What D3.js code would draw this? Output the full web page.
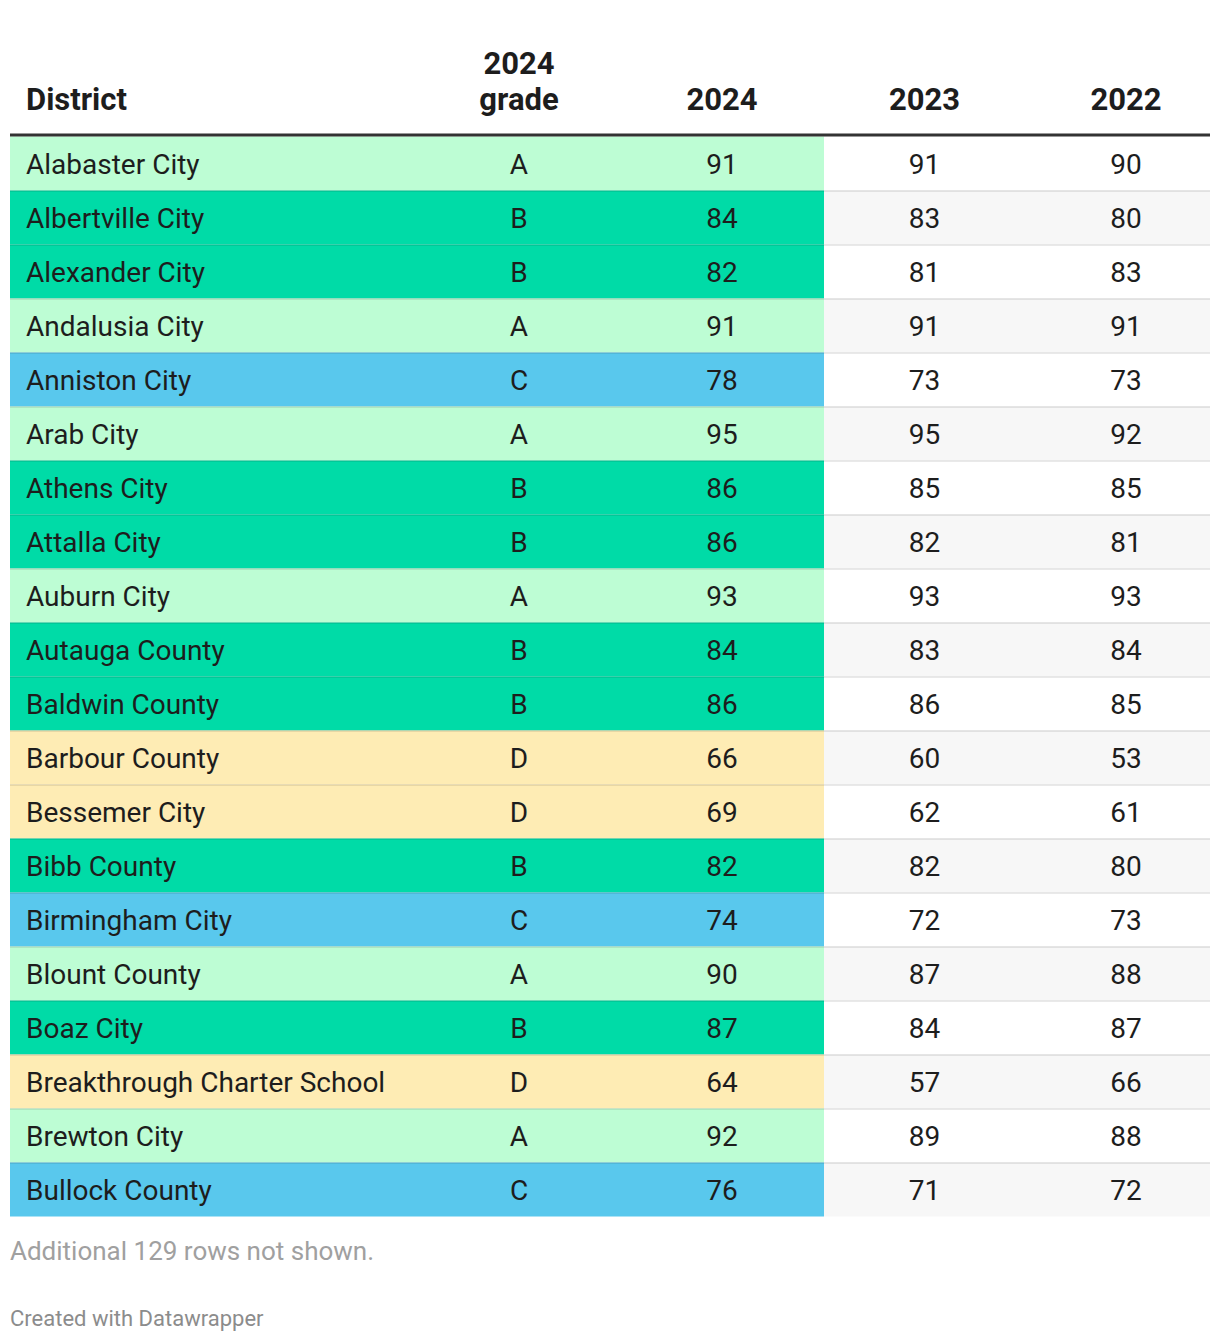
<!DOCTYPE html>
<html><head><meta charset="utf-8">
<script src="https://cdn.jsdelivr.net/npm/d3@7"></script>
<style>body{margin:0;background:#fff;} svg{display:block;font-family:Roboto,sans-serif;}</style>
</head><body>
<svg id="c" width="1220" height="1342"></svg>
<script>
const districts = ["Alabaster City","Albertville City","Alexander City","Andalusia City","Anniston City","Arab City","Athens City","Attalla City","Auburn City","Autauga County","Baldwin County","Barbour County","Bessemer City","Bibb County","Birmingham City","Blount County","Boaz City","Breakthrough Charter School","Brewton City","Bullock County"];
const grades2024 = ["A","B","B","A","C","A","B","B","A","B","B","D","D","B","C","A","B","D","A","C"];
const scores2024 = [91,84,82,91,78,95,86,86,93,84,86,66,69,82,74,90,87,64,92,76];
const scores2023 = [91,83,81,91,73,95,85,82,93,83,86,60,62,82,72,87,84,57,89,71];
const scores2022 = [90,80,83,91,73,92,85,81,93,84,85,53,61,80,73,88,87,66,88,72];
const columns = ["District","2024 grade","2024","2023","2022"];
const gradeLetters = ["A","B","C","D"];
const gradeColors = ["#bdfdd4","#00dba7","#59c8ed","#feecb4"];
const note = "Additional 129 rows not shown.";
const credit = "Created with Datawrapper";

const svg = d3.select("#c");
const L = 10, R = 1210, T = 136.5, rowH = 54;
const colColor = d3.scaleOrdinal().domain(gradeLetters).range(gradeColors);
const y = d3.scaleBand().domain(d3.range(districts.length)).range([T, T + rowH*districts.length]).padding(0);
const colEdges = [10, 418, 620, 824, 1025, 1227];
const colCenter = c => { const i = columns.indexOf(c); return (colEdges[i]+colEdges[i+1])/2; };

const rows = districts.map((d,i)=>({d, g:grades2024[i], s24:scores2024[i], s23:scores2023[i], s22:scores2022[i], i}));

// header
const hdr = svg.append("g").attr("font-weight",700).attr("font-size",31).attr("fill","#1d1d1d");
hdr.append("text").attr("x",26).attr("y",110).text("District");
hdr.append("text").attr("x",colCenter("2024 grade")).attr("y",74).attr("text-anchor","middle").text("2024");
hdr.append("text").attr("x",colCenter("2024 grade")).attr("y",110).attr("text-anchor","middle").text("grade");
["2024","2023","2022"].forEach(c=>{
  hdr.append("text").attr("x",colCenter(c)).attr("y",110).attr("text-anchor","middle").text(c);
});

// row backgrounds
const rg = svg.append("g");
rg.selectAll("rect.bg").data(rows).join("rect").attr("class","bg")
  .attr("x",824).attr("width",R-824)
  .attr("y",r=>y(r.i)).attr("height",y.bandwidth())
  .attr("fill",r=>r.i%2 ? "#f7f7f7" : "#ffffff");
rg.selectAll("rect.col").data(rows).join("rect").attr("class","col")
  .attr("x",L).attr("width",824-L)
  .attr("y",r=>y(r.i)).attr("height",y.bandwidth())
  .attr("fill",r=>colColor(r.g));
rg.selectAll("rect.sep").data(rows.filter(r=>r.i>0)).join("rect").attr("class","sep")
  .attr("x",L).attr("width",R-L)
  .attr("y",r=>y(r.i)-0.5).attr("height",2)
  .attr("fill","rgba(0,0,0,0.085)");

// header rule
svg.append("rect").attr("x",L).attr("width",R-L).attr("y",133.5).attr("height",3).attr("fill","#333");

// cell text
const tg = svg.append("g").attr("font-size",28).attr("fill","#1d1d1d");
const base = r => y(r.i) + y.bandwidth()/2 + 10.5;
tg.selectAll("text.d").data(rows).join("text").attr("class","d").attr("x",26).attr("y",base).text(r=>r.d);
[["2024 grade","g"],["2024","s24"],["2023","s23"],["2022","s22"]].forEach(([c,k])=>{
  tg.selectAll("text.c"+k).data(rows).join("text").attr("class","c"+k)
    .attr("x",colCenter(c)).attr("y",base).attr("text-anchor","middle").text(r=>r[k]);
});

svg.append("text").attr("x",10).attr("y",1260).attr("font-size",26).attr("fill","#a0a0a0").text(note);
svg.append("text").attr("x",10).attr("y",1326).attr("font-size",22).attr("fill","#8c8c8c").text(credit);
</script>
</body></html>
